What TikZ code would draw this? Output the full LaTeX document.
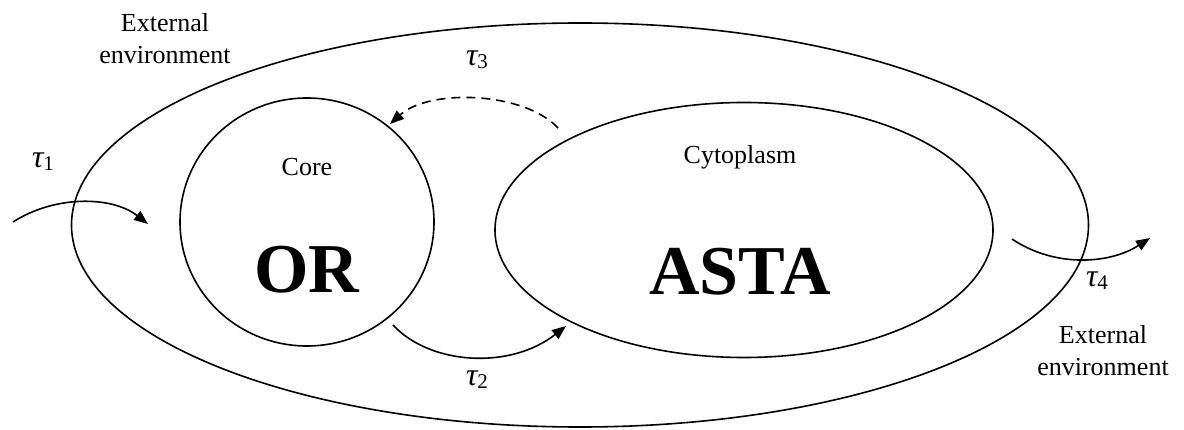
\documentclass[tikz,border=0pt]{standalone}
\usepackage{fontspec}
\setmainfont{Liberation Serif}
\usetikzlibrary{shapes.geometric,arrows.meta}
\tikzset{
  region/.style={draw, ellipse, line width=1.6pt, inner sep=0pt},
  lbl/.style={font=\fontsize{26}{32}\selectfont, align=center, inner sep=0pt},
  big/.style={font=\fontsize{70}{70}\selectfont\bfseries, inner sep=0pt},
  tau/.style={inner sep=0pt},
  flow/.style={line width=1.6pt, -{Triangle[length=14pt,width=11pt]}},
}
\newcommand{\tauidx}[1]{{\fontsize{32}{32}\selectfont\itshape τ}\raisebox{-0.6ex}{\fontsize{21}{21}\selectfont #1}}
\begin{document}
\begin{tikzpicture}[x=1pt,y=-1pt]
\useasboundingbox (0,0) rectangle (1184,430);
\node[region, minimum width=1017pt, minimum height=404pt] (env) at (580,225) {};
\node[region, minimum width=254pt, minimum height=248pt] (core) at (307,222) {};
\node[region, minimum width=498pt, minimum height=255pt] (cyto) at (744,230) {};
\node[lbl] (ext1) at (165,39) {External\\environment};
\node[lbl] (ext2) at (1103,351) {External\\environment};
\node[lbl] (corel) at (307,167) {Core};
\node[lbl] (cytol) at (740,157) {Cytoplasm};
\node[big] (or) at (307,270) {OR};
\node[big] (asta) at (740,272) {ASTA};
\node[tau] (t1) at (43,162) {\tauidx{1}};
\node[tau] (t2) at (477,380) {\tauidx{2}};
\node[tau] (t3) at (477,60) {\tauidx{3}};
\node[tau] (t4) at (1097,281) {\tauidx{4}};
\coordinate (a1) at (13,222);
\coordinate (b1) at (148,224);
\coordinate (a2) at (393,325);
\coordinate (b2) at (566,326);
\coordinate (a3) at (558,128);
\coordinate (b3) at (390,124);
\coordinate (a4) at (1012,239);
\coordinate (b4) at (1150,238);
\draw[flow] (a1) .. controls (55,195) and (112,196) .. (b1);
\draw[flow] (a2) .. controls (430,365) and (510,370) .. (b2);
\draw[flow, dashed, dash pattern=on 9pt off 6pt] (a3) .. controls (525,92) and (430,88) .. (b3);
\draw[flow] (a4) .. controls (1055,268) and (1110,264) .. (b4);
\end{tikzpicture}
\end{document}
